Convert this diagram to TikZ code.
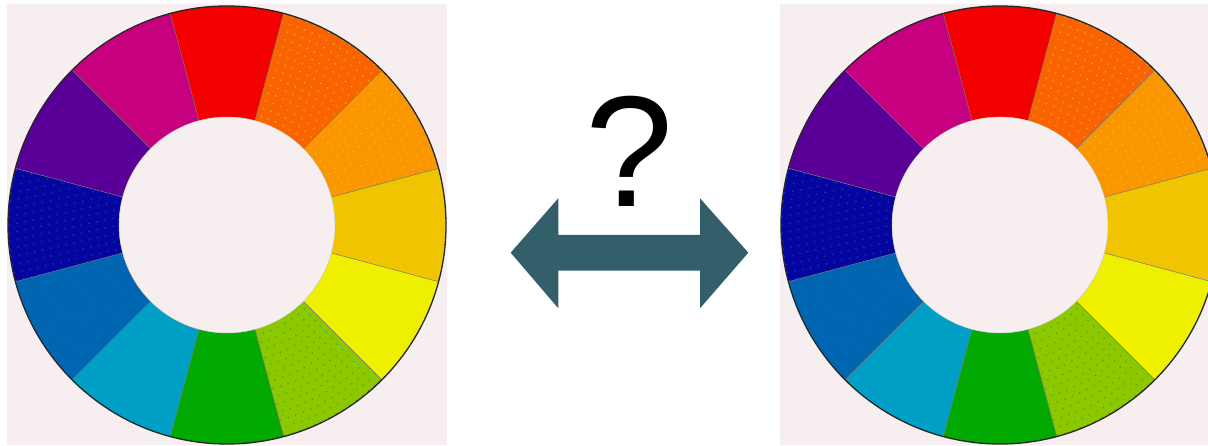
\documentclass[tikz,border=0pt]{standalone}
\usepackage{fontspec}
\setmainfont{Liberation Sans}
\definecolor{panelbg}{HTML}{F6EEEF}
\definecolor{arrowcol}{HTML}{335F6B}
\definecolor{cRed}{HTML}{F50000}
\definecolor{cRedOr}{HTML}{FA6400}
\definecolor{cOr}{HTML}{F99600}
\definecolor{cYelOr}{HTML}{F1C400}
\definecolor{cYel}{HTML}{EFEF00}
\definecolor{cYelGr}{HTML}{8CC800}
\definecolor{cGreen}{HTML}{00AA00}
\definecolor{cCyan}{HTML}{00A0C6}
\definecolor{cBlue}{HTML}{0066B2}
\definecolor{cNavy}{HTML}{0505A0}
\definecolor{cViolet}{HTML}{5A0098}
\definecolor{cMag}{HTML}{C6007E}
\definecolor{dWarm}{HTML}{F8D040}
\definecolor{dGreen}{HTML}{2E8A10}
\definecolor{dBlue}{HTML}{2A62C0}
\tikzset{
  panel/.style={fill=panelbg, draw=none},
  divider/.style={draw=black!55, line width=0.5pt},
  rim/.style={draw=black!85, line width=1.3pt},
  hub/.style={circle, fill=panelbg, draw=black!25, line width=0.4pt, minimum size=216pt, inner sep=0pt},
  qmark/.style={inner sep=0pt, anchor=base, font=\fontsize{158}{160}\selectfont},
  bigarrow/.style={fill=arrowcol, draw=none},
  dotstyle/.style={line width=0pt}
}
\newcommand\segpath[1]{({#1-15}:108pt) -- ({#1-15}:219pt) arc[start angle={#1-15}, end angle={#1+15}, radius=219pt] -- ({#1+15}:108pt) arc[start angle={#1+15}, end angle={#1-15}, radius=108pt] -- cycle}
\newcommand\colorwheel[2]{% #1 centre, #2 name
  \begin{scope}[shift={#1}]
    \foreach \a/\c in {90/cRed, 60/cRedOr, 30/cOr, 0/cYelOr, -30/cYel, -60/cYelGr, -90/cGreen, -120/cCyan, -150/cBlue, 180/cNavy, 150/cViolet, 120/cMag}{
      \fill[\c] \segpath{\a};
    }
    \foreach \a/\d in {60/dWarm, 30/dWarm, 0/dWarm, -60/dGreen, -90/dGreen, -150/dBlue, 180/dBlue}{
      \begin{scope}
        \clip \segpath{\a};
        \foreach \r in {114,122,...,218}{
          \pgfmathsetmacro\st{8/\r*57.2958}
          \pgfmathsetmacro\ta{\a-16+mod(\r,16)/16*\st}
          \pgfmathsetmacro\tb{\ta+\st}
          \pgfmathsetmacro\tc{\a+16}
          \foreach \t in {\ta,\tb,...,\tc}{
            \fill[\d, opacity=0.55] (\t:\r pt) circle (0.9pt);
          }
        }
      \end{scope}
    }
    \foreach \a in {15,45,...,345}{
      \draw[divider] (\a:108pt) -- (\a:219pt);
    }
    \draw[rim] (0,0) circle (219pt);
    \node[hub] (#2) at (0,0) {};
  \end{scope}
}
\begin{document}
\begin{tikzpicture}[x=1pt,y=1pt]
  \useasboundingbox (0,0) rectangle (1208,446);
  \fill[white] (0,0) rectangle (1208,446);
  % left panel
  \fill[panel] (7,1) rectangle (447,442);
  \begin{scope}
    \clip (7,1) rectangle (447,442);
    \colorwheel{(227,221)}{hubL}
  \end{scope}
  % right panel
  \fill[panel] (780,1) rectangle (1208,442);
  \begin{scope}
    \clip (780,1) rectangle (1208,442);
    \colorwheel{(1000,221)}{hubR}
  \end{scope}
  % double arrow
  \fill[bigarrow] (510.7,193.3) -- (558.3,247.7) -- (558.3,211) -- (700,211) -- (700,247.7)
     -- (748.3,193.3) -- (700,137.7) -- (700,175.3) -- (558.3,175.3) -- (558.3,137.7) -- cycle;
  \coordinate (arrowmid) at (629.5,193.3);
  \node[qmark] (q) at (629,239) {?};
\end{tikzpicture}
\end{document}
